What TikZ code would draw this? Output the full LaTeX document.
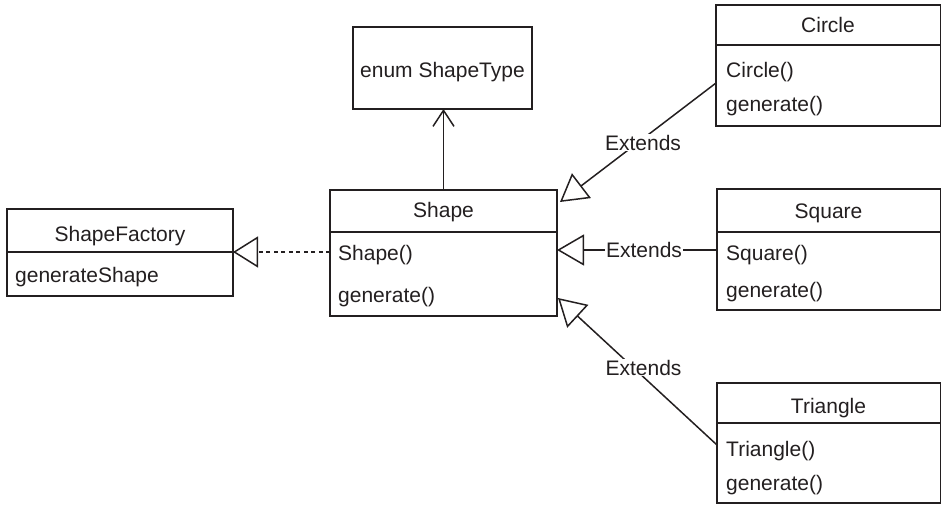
\documentclass[tikz,border=0pt]{standalone}
\usepackage{fontspec}
\setmainfont{Liberation Sans}
\usetikzlibrary{arrows.meta}
\definecolor{ink}{RGB}{35,31,32}
\begin{document}
\begin{tikzpicture}[x=1pt,y=-1pt,
  box/.style={draw=ink, line width=1.5pt, inner sep=0pt, outer sep=0pt, anchor=north west},
  ttl/.style={inner sep=0pt, anchor=base, text=ink, font=\fontsize{21}{25}\selectfont},
  mem/.style={inner sep=0pt, anchor=base west, text=ink, font=\fontsize{21}{25}\selectfont},
  lbl/.style={fill=white, inner sep=1pt, text=ink, font=\fontsize{21}{25}\selectfont},
  link/.style={draw=ink, line width=1.5pt},
  inh/.style={link, -{Triangle[open, length=27pt, width=31pt]}},
  real/.style={link, dash pattern=on 4pt off 3.5pt, -{Triangle[open, length=25pt, width=31pt]}},
  assoc/.style={link, -{Straight Barb[length=16pt, width=21pt]}},
  sepline/.style={draw=ink, line width=1.5pt}
]
\useasboundingbox (0,0) rectangle (942,504);

% ShapeFactory
\node[box, minimum width=226pt, minimum height=87pt] (sf) at (7,209) {};
\draw[sepline] ([yshift=-43pt]sf.north west) -- ([yshift=-43pt]sf.north east);
\node[ttl] (sfT) at (120,241) {ShapeFactory};
\node[mem] (sfM1) at (15,282) {generateShape};

% Shape
\node[box, minimum width=227pt, minimum height=126pt] (shape) at (330,190) {};
\draw[sepline] ([yshift=-42pt]shape.north west) -- ([yshift=-42pt]shape.north east);
\node[ttl] (shapeT) at (443.5,217) {Shape};
\node[mem] (shapeM1) at (338,260) {Shape()};
\node[mem] (shapeM2) at (338,302) {generate()};

% enum ShapeType
\node[box, minimum width=179pt, minimum height=82pt] (enum) at (353,27) {};
\node[ttl] (enumT) at (442.5,77) {enum ShapeType};

% Circle
\node[box, minimum width=224.5pt, minimum height=121pt] (circ) at (716,5) {};
\draw[sepline] ([yshift=-40pt]circ.north west) -- ([yshift=-40pt]circ.north east);
\node[ttl] (circT) at (828,32) {Circle};
\node[mem] (circM1) at (726,77) {Circle()};
\node[mem] (circM2) at (726,111) {generate()};

% Square
\node[box, minimum width=223.5pt, minimum height=121pt] (sq) at (717,189) {};
\draw[sepline] ([yshift=-43pt]sq.north west) -- ([yshift=-43pt]sq.north east);
\node[ttl] (sqT) at (828.5,218) {Square};
\node[mem] (sqM1) at (726,260) {Square()};
\node[mem] (sqM2) at (726,297) {generate()};

% Triangle
\node[box, minimum width=223.5pt, minimum height=120pt] (tri) at (717,383) {};
\draw[sepline] ([yshift=-40pt]tri.north west) -- ([yshift=-40pt]tri.north east);
\node[ttl] (triT) at (828.5,413) {Triangle};
\node[mem] (triM1) at (726,456) {Triangle()};
\node[mem] (triM2) at (726,490) {generate()};

% connectors
\draw[assoc] (shape.north) -- (shape.north |- enum.south);
\draw[real] ([yshift=-62pt]shape.north west) -- ([yshift=-43pt]sf.north east);
\draw[inh] ([yshift=-78pt]circ.north west) -- node[lbl, pos=0.5, xshift=5pt] (l1) {Extends} ([xshift=3pt,yshift=-12pt]shape.north east);
\draw[inh] ([yshift=-61pt]sq.north west) -- node[lbl, pos=0.5, xshift=7pt] (l2) {Extends} ([yshift=-60pt]shape.north east);
\draw[inh] ([yshift=-62pt]tri.north west) -- node[lbl, pos=0.5, xshift=6pt, yshift=4pt] (l3) {Extends} ([xshift=1pt,yshift=-108pt]shape.north east);
\end{tikzpicture}
\end{document}
